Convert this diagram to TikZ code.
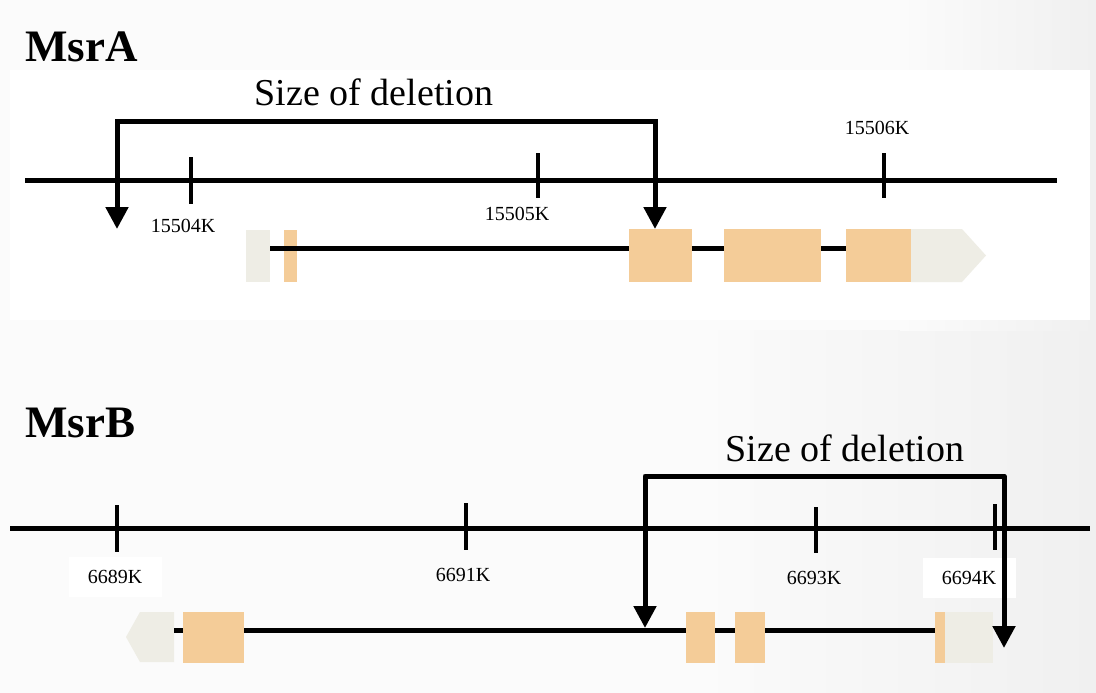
\documentclass[tikz,border=0pt]{standalone}
\usepackage{fontspec}
\setmainfont{Liberation Serif}
\usetikzlibrary{arrows.meta}
\definecolor{exon}{HTML}{F4CC98}
\definecolor{utr}{HTML}{EEEDE5}
\definecolor{paper}{HTML}{FBFBFB}
\definecolor{paperedge}{HTML}{F0F0F0}
\tikzset{
  chrom/.style={line width=5pt},
  tickmark/.style={line width=3.5pt},
  intron/.style={line width=5pt},
  delbracket/.style={line width=5pt, {Triangle[width=22pt,length=22pt]}-{Triangle[width=22pt,length=22pt]}},
  exonbox/.style={fill=exon, draw=none, inner sep=0pt, anchor=north west},
  utrbox/.style={fill=utr, draw=none, inner sep=0pt, anchor=north west},
  poslabel/.style={inner sep=0pt, font=\fontsize{20}{20}\selectfont},
  genetitle/.style={inner sep=0pt, anchor=base west, font=\fontsize{45}{45}\selectfont\bfseries},
  deltext/.style={inner sep=0pt, anchor=base, font=\fontsize{38}{38}\selectfont},
}
\begin{document}
\begin{tikzpicture}[x=1pt,y=-1pt]
% page and panels
\fill[paper] (0,0) rectangle (1096,693);
\useasboundingbox (0,0) rectangle (1096,693);
\shade[left color=paper, right color=paperedge] (700,330) rectangle (1096,693);
\shade[left color=paper, right color=paperedge] (900,0) rectangle (1096,330);
\fill[white] (10,70) rectangle (1090,320);

% ---------------- MsrA ----------------
\node[genetitle] (titleA) at (25,62) {MsrA};
\node[deltext] (delA) at (374,106) {Size of deletion};

\coordinate (axA0) at (25,180);
\coordinate (axA1) at (1057,180);
\draw[chrom] (axA0) -- (axA1);

\coordinate (tA1a) at (191,157); \coordinate (tA1b) at (191,204);
\coordinate (tA2a) at (538,153); \coordinate (tA2b) at (538,198);
\coordinate (tA3a) at (884,153); \coordinate (tA3b) at (884,198);
\draw[tickmark] (tA1a) -- (tA1b);
\draw[tickmark] (tA2a) -- (tA2b);
\draw[tickmark] (tA3a) -- (tA3b);
\node[poslabel] (lA1) at (183,226) {15504K};
\node[poslabel] (lA2) at (517,214) {15505K};
\node[poslabel] (lA3) at (877,128) {15506K};

% gene model
\node[utrbox, minimum width=24.5, minimum height=52] (utrA5) at (245.5,230) {};
\node[exonbox, minimum width=13, minimum height=52] (exA0) at (283.5,230) {};
\node[exonbox, minimum width=63, minimum height=53] (exA1) at (628.5,229) {};
\node[exonbox, minimum width=97, minimum height=53] (exA2) at (724,229) {};
\node[exonbox, minimum width=65, minimum height=53] (exA3) at (846,229) {};
\fill[utr] (911,229) -- (962,229) -- (986,255.5) -- (962,282) -- (911,282) -- cycle;
\coordinate (inA0) at (270,248);
\coordinate (inA1) at (846,248);
\draw[intron] (inA0) -- (exA1.west |- inA0);
\draw[intron] (exA1.east |- inA0) -- (exA2.west |- inA0);
\draw[intron] (exA2.east |- inA0) -- (inA1);

% deletion bracket
\coordinate (dA0) at (117,229);
\coordinate (dA1) at (117,121);
\coordinate (dA2) at (655,121);
\coordinate (dA3) at (655,229);
\draw[delbracket] (dA0) -- (dA1) -- (dA2) -- (dA3);

% ---------------- MsrB ----------------
\node[genetitle] (titleB) at (25,437) {MsrB};
\node[deltext] (delB) at (845,461) {Size of deletion};

\coordinate (axB0) at (10,528);
\coordinate (axB1) at (1090,528);
\draw[chrom] (axB0) -- (axB1);

\coordinate (tB1a) at (117,505); \coordinate (tB1b) at (117,552);
\coordinate (tB2a) at (466,503); \coordinate (tB2b) at (466,550);
\coordinate (tB3a) at (816,507); \coordinate (tB3b) at (816,553);
\coordinate (tB4a) at (995,504); \coordinate (tB4b) at (995,550);
\draw[tickmark] (tB1a) -- (tB1b);
\draw[tickmark] (tB2a) -- (tB2b);
\draw[tickmark] (tB3a) -- (tB3b);
\draw[tickmark] (tB4a) -- (tB4b);
\node[poslabel, fill=white, minimum width=93, minimum height=40] (lB1) at (115,577) {6689K};
\node[poslabel] (lB2) at (463,575) {6691K};
\node[poslabel] (lB3) at (814,578) {6693K};
\node[poslabel, fill=white, minimum width=93, minimum height=40] (lB4) at (969,578) {6694K};

% gene model (minus strand)
\fill[utr] (174,612) -- (140,612) -- (126,637) -- (140,662) -- (174,662) -- cycle;
\node[exonbox, minimum width=61, minimum height=51] (exB1) at (183,612) {};
\node[exonbox, minimum width=29, minimum height=51] (exB2) at (686,612) {};
\node[exonbox, minimum width=30, minimum height=51] (exB3) at (735,612) {};
\node[exonbox, minimum width=10, minimum height=51] (exB4) at (935,612) {};
\node[utrbox, minimum width=48, minimum height=51] (utrB5) at (945,612) {};
\coordinate (inB0) at (174,630);
\draw[intron] (inB0) -- (exB1.west |- inB0);
\draw[intron] (exB1.east |- inB0) -- (exB2.west |- inB0);
\draw[intron] (exB2.east |- inB0) -- (exB3.west |- inB0);
\draw[intron] (exB3.east |- inB0) -- (exB4.west |- inB0);

% deletion bracket
\coordinate (dB0) at (645,628);
\coordinate (dB1) at (645,476);
\coordinate (dB2) at (1004,476);
\coordinate (dB3) at (1004,648);
\draw[delbracket, line join=round] (dB0) -- (dB1) -- (dB2) -- (dB3);
\end{tikzpicture}
\end{document}
